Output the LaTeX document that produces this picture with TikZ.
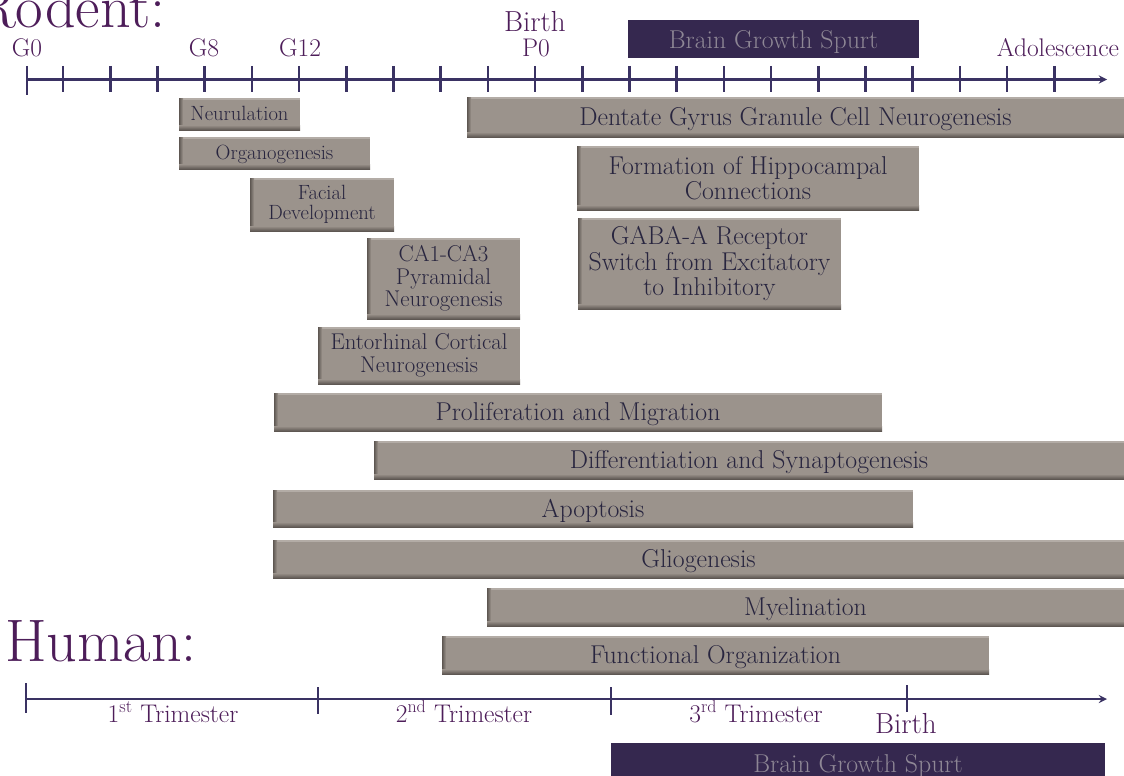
\documentclass[tikz,border=0pt]{standalone}
\usepackage{tikz}

\definecolor{barFill}{HTML}{9B938C}
\definecolor{barDark}{HTML}{5E5752}
\definecolor{barLight}{HTML}{B3ACA6}
\definecolor{barText}{HTML}{28253F}
\definecolor{labelPurple}{HTML}{4D1D59}
\definecolor{axisColor}{HTML}{3A3263}
\definecolor{spurtFill}{HTML}{35284F}
\definecolor{spurtText}{HTML}{8E8795}

\newcommand{\fBar}{\fontsize{25.8}{25.5}\selectfont}
\newcommand{\fMidBar}{\fontsize{22.8}{22.5}\selectfont}
\newcommand{\fSmallBar}{\fontsize{20.6}{20.5}\selectfont}
\newcommand{\fLabel}{\fontsize{25.5}{27}\selectfont}
\newcommand{\fBirth}{\fontsize{29}{31}\selectfont}
\newcommand{\fTitle}{\fontsize{60}{64}\selectfont}

\begin{document}
\begin{tikzpicture}[x=1pt,y=-1pt]
    \tikzset{Bar/.style = {rectangle,fill=barFill,inner sep=0pt,align=center,text=barText,font=\fBar,
        path picture={
            \fill[barLight] (path picture bounding box.north west) rectangle ([yshift=-1.5pt]path picture bounding box.north east);
            \shade[left color=barDark,right color=barFill] (path picture bounding box.south west) rectangle ([xshift=4pt]path picture bounding box.north west);
            \shade[top color=barFill,bottom color=barDark] (path picture bounding box.south west) rectangle ([yshift=5pt]path picture bounding box.south east);
        }}}
    \tikzset{OneLine/.style = {text height=21pt,text depth=4pt}}
    \tikzset{SmallOneLine/.style = {text height=17pt,text depth=5pt}}
    \tikzset{MidBar/.style = {Bar,font=\fMidBar}}
    \tikzset{SmallBar/.style = {Bar,font=\fSmallBar}}
    \tikzset{Spurt/.style = {rectangle,fill=spurtFill,inner sep=0pt,text=spurtText,font=\fBar,text height=23pt,text depth=4pt}}
    \tikzset{Label/.style = {text=labelPurple,font=\fLabel,inner sep=0pt,anchor=base}}
    \tikzset{Title/.style = {text=labelPurple,font=\fTitle,inner sep=0pt,anchor=base west}}
    \tikzset{axisLine/.style = {draw=axisColor,line width=2.6pt}}
    \tikzset{flecha/.style = {->,>=stealth,axisColor,line width=2.6pt}}

    \useasboundingbox (0,0) rectangle (1124,776);
    \clip (0,0) rectangle (1124,776);

    \node[Title] (rodent) at (-25,28) {Rodent:};
    \node[Title] (human) at (5,661) {Human:};

    \node[Spurt,minimum width=291pt,minimum height=38pt] (spurtR) at (773.5,39) {Brain Growth Spurt};

    \coordinate (rStart) at (27,79.5);
    \coordinate (rEnd) at (1107,79.5);
    \draw[flecha] (rStart) -- (rEnd);
    \draw[axisLine] (27,66) -- (27,95);
    \foreach \k in {0,...,21}
        \draw[axisLine] (63+47.2*\k,66) -- (63+47.2*\k,92);

    \node[Label] (g0) at (27,57) {G0};
    \node[Label] (g8) at (204,57) {G8};
    \node[Label] (g12) at (300,57) {G12};
    \node[Label,font=\fBirth] (birthR) at (535,32) {Birth};
    \node[Label] (p0) at (536,57) {P0};
    \node[Label] (adol) at (1058,57) {Adolescence};

    \node[SmallBar,SmallOneLine,minimum width=121pt,minimum height=32pt] (neurulation) at (239.5,114) {Neurulation};
    \node[SmallBar,SmallOneLine,minimum width=191pt,minimum height=32pt] (organogenesis) at (274.5,153) {Organogenesis};
    \node[SmallBar,minimum width=144pt,minimum height=53pt] (facial) at (322,204.5) {Facial\\Development};
    \node[Bar,OneLine,minimum width=657pt,minimum height=40pt] (dentate) at (795.5,117) {Dentate Gyrus Granule Cell Neurogenesis};
    \node[Bar,minimum width=342pt,minimum height=64pt] (formation) at (748,178) {Formation of Hippocampal\\Connections};
    \node[Bar,minimum width=263pt,minimum height=91pt] (gaba) at (709.5,263.5) {GABA-A Receptor\\Switch from Excitatory\\to Inhibitory};
    \node[MidBar,minimum width=153pt,minimum height=81pt] (pyramidal) at (443.5,278.5) {CA1-CA3\\Pyramidal\\Neurogenesis};
    \node[MidBar,minimum width=202pt,minimum height=57pt] (entorhinal) at (419,355.5) {Entorhinal Cortical\\Neurogenesis};
    \node[Bar,OneLine,minimum width=608pt,minimum height=38pt] (prolif) at (578,412) {Proliferation and Migration};
    \node[Bar,OneLine,minimum width=750pt,minimum height=38pt] (diff) at (749,460) {Differentiation and Synaptogenesis};
    \node[Bar,OneLine,minimum width=640pt,minimum height=37pt] (apoptosis) at (593,508.5) {Apoptosis};
    \node[Bar,OneLine,minimum width=851pt,minimum height=38pt] (glio) at (698.5,559) {Gliogenesis};
    \node[Bar,OneLine,minimum width=637pt,minimum height=38pt] (myelin) at (805.5,607) {Myelination};
    \node[Bar,OneLine,minimum width=547pt,minimum height=38pt] (functional) at (715.5,655) {Functional Organization};

    \coordinate (hStart) at (26,699);
    \coordinate (hEnd) at (1107,699);
    \draw[flecha] (hStart) -- (hEnd);
    \draw[axisLine] (26,683) -- (26,713);
    \draw[axisLine] (318,687) -- (318,714);
    \draw[axisLine] (611,687) -- (611,715);
    \draw[axisLine] (907,685) -- (907,712);

    \node[Label] (tri1) at (173,722) {1\textsuperscript{st} Trimester};
    \node[Label] (tri2) at (464,722) {2\textsuperscript{nd} Trimester};
    \node[Label] (tri3) at (756,722) {3\textsuperscript{rd} Trimester};
    \node[Label,font=\fBirth] (birthH) at (906,733) {Birth};

    \node[Spurt,minimum width=494pt,minimum height=40pt] (spurtH) at (858,763) {Brain Growth Spurt};
\end{tikzpicture}
\end{document}
